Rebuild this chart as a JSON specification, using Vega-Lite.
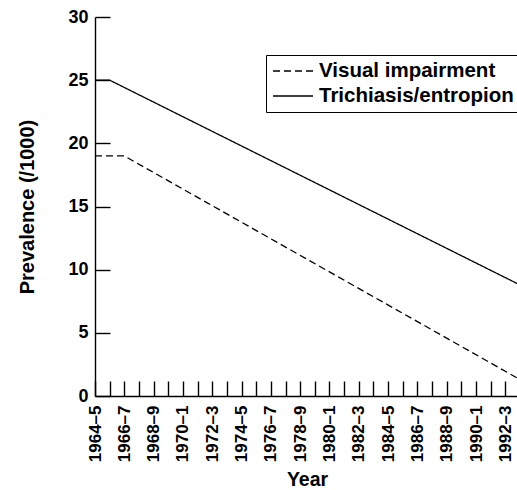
{
  "$schema": "https://vega.github.io/schema/vega-lite/v6.json",
  "width": 425,
  "height": 379,
  "autosize": {"type": "none"},
  "padding": {"left": 95, "top": 17, "right": 0, "bottom": 94},
  "background": "white",
  "config": {
    "view": {"stroke": null},
    "font": "Liberation Sans",
    "axis": {
      "domainColor": "black",
      "domainWidth": 1.4,
      "tickColor": "black",
      "tickWidth": 1.4,
      "labelColor": "black",
      "titleColor": "black",
      "labelFont": "Liberation Sans",
      "titleFont": "Liberation Sans",
      "labelFontWeight": "bold",
      "titleFontWeight": "bold",
      "grid": false
    }
  },
  "data": {
    "values": [
      {"year": "1964–5", "series": "Visual impairment", "value": 19},
      {"year": "1966–7", "series": "Visual impairment", "value": 19},
      {"year": "1993–4", "series": "Visual impairment", "value": 1.3},
      {"year": "1964–5", "series": "Trichiasis/entropion", "value": 25},
      {"year": "1965–6", "series": "Trichiasis/entropion", "value": 25},
      {"year": "1993–4", "series": "Trichiasis/entropion", "value": 8.79}
    ]
  },
  "mark": {"type": "line", "color": "black", "strokeWidth": 1.3},
  "encoding": {
    "x": {
      "field": "year",
      "type": "ordinal",
      "scale": {
        "type": "point",
        "padding": 0,
        "domain": ["1964–5","1965–6","1966–7","1967–8","1968–9","1969–70","1970–1","1971–2","1972–3","1973–4","1974–5","1975–6","1976–7","1977–8","1978–9","1979–80","1980–1","1981–2","1982–3","1983–4","1984–5","1985–6","1986–7","1987–8","1988–9","1989–90","1990–1","1991–2","1992–3","1993–4"]
      },
      "axis": {
        "title": "Year",
        "titleFontSize": 19.5,
        "titleX": 212,
        "titleY": 89,
        "titleBaseline": "alphabetic",
        "tickSize": -15,
        "labelAngle": -90,
        "labelPadding": 24,
        "labelFontSize": 17,
        "labelOverlap": false,
        "labelExpr": "toNumber(substring(datum.value, 0, 4)) % 2 == 0 ? datum.value : ''"
      }
    },
    "y": {
      "field": "value",
      "type": "quantitative",
      "scale": {"domain": [0, 30], "nice": false},
      "axis": {
        "values": [0, 5, 10, 15, 20, 25, 30],
        "title": "Prevalence (/1000)",
        "titleFontSize": 20,
        "titleX": -68,
        "titleY": 189.5,
        "titleBaseline": "middle",
        "titleAngle": -90,
        "tickSize": -15,
        "labelPadding": 22,
        "labelFontSize": 18
      }
    },
    "strokeDash": {
      "field": "series",
      "type": "nominal",
      "scale": {
        "domain": ["Visual impairment", "Trichiasis/entropion"],
        "range": [[7, 4], [1, 0]]
      },
      "legend": {
        "title": null,
        "orient": "none",
        "legendX": 171,
        "legendY": 38,
        "strokeColor": "black",
        "fillColor": "white",
        "padding": 5,
        "symbolType": "M -2 0 L 2 0",
        "symbolSize": 400,
        "symbolOffset": 11,
        "symbolStrokeWidth": 1.3,
        "symbolStrokeColor": "black",
        "symbolFillColor": "transparent",
        "labelFontSize": 20.5,
        "labelFont": "Liberation Sans",
        "labelFontWeight": "bold",
        "labelColor": "black",
        "labelLimit": 400,
        "labelOffset": 15,
        "rowPadding": 3
      }
    }
  }
}
